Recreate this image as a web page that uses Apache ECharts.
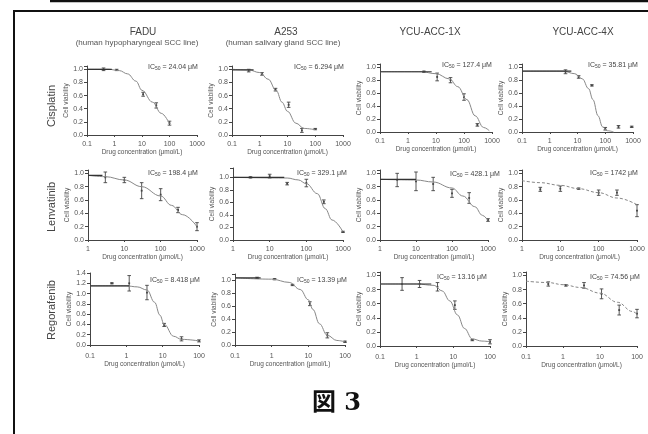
<!DOCTYPE html>
<html><head><meta charset="utf-8">
<script src="https://cdn.jsdelivr.net/npm/echarts@6/dist/echarts.min.js"></script>
<style>html,body{margin:0;padding:0;background:#fff}#c{width:648px;height:434px}</style>
</head><body><div id="c"></div>
<script>
// ---------- labels ----------
const cellLines = ['FADU', 'A253', 'YCU-ACC-1X', 'YCU-ACC-4X'];
const cellLineNotes = ['(human hypopharyngeal SCC line)', '(human salivary gland SCC line)', '', ''];
const drugs = ['Cisplatin', 'Lenvatinib', 'Regorafenib'];
const ic50Values = ['24.04', '6.294', '127.4', '35.81', '198.4', '329.1', '428.1', '1742', '8.418', '13.39', '13.16', '74.56'];
const xAxisTitle = 'Drug concentration (\u03bcmol/L)';
const yAxisTitle = 'Cell viability';
const figureLabel = '\u56f3 3';

// ---------- data: points [concentration, mean viability, error] ----------
const ptsFaduCis = [[0.4,1.0,0.02],[1.2,0.99,0.01],[11,0.62,0.03],[33,0.45,0.04],[100,0.18,0.03]];
const ptsA253Cis = [[0.4,0.98,0.02],[1.2,0.93,0.02],[3.7,0.69,0.02],[11,0.46,0.04],[33,0.07,0.03],[100,0.09,0.01]];
const pts1XCis   = [[3.7,0.93,0.01],[11,0.85,0.06],[33,0.80,0.04],[100,0.54,0.05],[300,0.11,0.02]];
const pts4XCis   = [[3.7,0.93,0.03],[11,0.85,0.02],[33,0.72,0.01],[100,0.05,0.02],[300,0.08,0.02],[900,0.08,0.01]];
const ptsFaduLen = [[3,0.94,0.08],[10,0.90,0.04],[30,0.74,0.12],[100,0.68,0.09],[300,0.45,0.04],[1000,0.20,0.06]];
const ptsA253Len = [[3,1.0,0.01],[10,1.02,0.03],[30,0.90,0.02],[100,0.91,0.06],[300,0.61,0.03],[1000,0.13,0.01]];
const pts1XLen   = [[3,0.90,0.10],[10,0.88,0.14],[30,0.84,0.10],[100,0.70,0.06],[300,0.63,0.08],[1000,0.30,0.02]];
const pts4XLen   = [[3,0.76,0.03],[10,0.77,0.04],[30,0.77,0.01],[100,0.71,0.04],[300,0.71,0.04],[1000,0.44,0.09]];
const ptsFaduReg = [[0.4,1.20,0.01],[1.2,1.20,0.15],[3.7,1.02,0.14],[11,0.39,0.03],[33,0.12,0.04],[100,0.08,0.02]];
const ptsA253Reg = [[0.4,1.04,0.01],[1.2,1.02,0.01],[3.7,0.93,0.01],[11,0.64,0.03],[33,0.15,0.04],[100,0.05,0.01]];
const pts1XReg   = [[0.4,0.88,0.09],[1.2,0.88,0.05],[3.7,0.84,0.06],[11,0.58,0.06],[33,0.085,0.01],[100,0.06,0.03]];
const pts4XReg   = [[0.4,0.88,0.03],[1.2,0.86,0.01],[3.7,0.86,0.04],[11,0.74,0.07],[33,0.51,0.07],[100,0.46,0.06]];

// ---------- fitted curves [concentration, viability] ----------
const fitFaduCis = [[0.1,1.0],[0.6,1.0],[1.5,0.98],[3,0.93],[6,0.82],[10,0.68],[24,0.5],[50,0.33],[100,0.17]];
const fitA253Cis = [[0.1,1.0],[0.4,0.99],[1,0.95],[2,0.85],[4,0.67],[6.3,0.5],[10,0.36],[20,0.18],[40,0.1],[100,0.08]];
const fit1XCis   = [[0.1,0.93],[3,0.93],[10,0.9],[30,0.82],[60,0.7],[127,0.5],[250,0.25],[500,0.07],[800,0.02]];
const fit4XCis   = [[0.1,0.94],[3,0.94],[8,0.9],[15,0.82],[25,0.67],[36,0.5],[55,0.25],[80,0.08],[120,0.02],[200,0.0]];
const fitFaduLen = [[1,0.97],[3,0.95],[10,0.9],[30,0.8],[100,0.66],[198,0.52],[400,0.38],[1000,0.2]];
const fitA253Len = [[1,1.0],[30,0.99],[60,0.96],[100,0.9],[200,0.74],[329,0.5],[500,0.32],[1000,0.13]];
const fit1XLen   = [[1,0.91],[10,0.9],[30,0.87],[100,0.78],[200,0.66],[428,0.5],[700,0.37],[1000,0.29]];
const fit4XLen   = [[1,0.89],[3,0.86],[10,0.82],[30,0.77],[100,0.71],[300,0.63],[1000,0.53]];
const fitFaduReg = [[0.1,1.15],[1,1.15],[2,1.13],[3.7,1.07],[6,0.83],[8.4,0.58],[11,0.4],[20,0.17],[33,0.11],[100,0.08]];
const fitA253Reg = [[0.1,1.04],[1,1.02],[3,0.97],[6,0.86],[10,0.7],[13.4,0.55],[20,0.33],[33,0.15],[60,0.07],[100,0.05]];
const fit1XReg   = [[0.1,0.88],[1,0.88],[3,0.86],[5,0.78],[8,0.64],[13,0.44],[20,0.25],[33,0.1],[60,0.07],[100,0.06]];
const fit4XReg   = [[0.1,0.92],[0.4,0.9],[1,0.87],[3,0.83],[10,0.75],[30,0.62],[75,0.49],[100,0.45]];

// ---------- dark plateau segments ----------
const platFaduCis = [[0.1,1.0],[0.8,1.0]];
const platA253Cis = [[0.1,0.99],[0.6,0.99]];
const plat1XCis   = [[0.1,0.93],[7,0.93]];
const plat4XCis   = [[0.1,0.94],[6,0.94]];
const platFaduLen = [[1,0.97],[2.5,0.97]];
const platA253Len = [[1,1.0],[25,1.0]];
const plat1XLen   = [[1,0.91],[10,0.91]];
const plat4XLen   = [];
const platFaduReg = [[0.1,1.15],[1.2,1.15]];
const platA253Reg = [[0.1,1.04],[0.5,1.04]];
const plat1XReg   = [[0.1,0.88],[2.5,0.88]];
const plat4XReg   = [];

const points = [ptsFaduCis, ptsA253Cis, pts1XCis, pts4XCis, ptsFaduLen, ptsA253Len, pts1XLen, pts4XLen, ptsFaduReg, ptsA253Reg, pts1XReg, pts4XReg];
const fits = [fitFaduCis, fitA253Cis, fit1XCis, fit4XCis, fitFaduLen, fitA253Len, fit1XLen, fit4XLen, fitFaduReg, fitA253Reg, fit1XReg, fit4XReg];
const plateaus = [platFaduCis, platA253Cis, plat1XCis, plat4XCis, platFaduLen, platA253Len, plat1XLen, plat4XLen, platFaduReg, platA253Reg, plat1XReg, plat4XReg];

// ---------- layout (pixels) [left, top, width, height, xmin, xmax, ymax, dashedFit] ----------
const layout = [
  [87,66,110,69, 0.1,1000,1.05,0],
  [232,66,111,69, 0.1,1000,1.05,0],
  [380,64,112,68, 0.1,1000,1.05,0],
  [522,64,111,68, 0.1,1000,1.05,0],
  [88,170,109,70, 1,1000,1.05,0],
  [233,168,110,72, 1,1000,1.15,0],
  [380,170,108,70, 1,1000,1.05,0],
  [522,170,115,70, 1,1000,1.05,1],
  [90,273,109,72, 0.1,100,1.4,0],
  [235,274,110,71, 0.1,100,1.1,0],
  [380,272,110,74, 0.1,100,1.05,0],
  [526,272,111,74, 0.1,100,1.05,1]
];
const ic50Pos = [[148,67],[294,67],[442,65],[588,65],[148,173],[297,173],[450,174],[590,173],[150,280],[297,280],[437,277],[590,277]];

const FONT = '"Liberation Sans", Arial, sans-serif';
const TXT = '#555';
const AX = '#444';

const grids = [], xAxes = [], yAxes = [], series = [];
layout.forEach((L, i) => {
  const row = Math.floor(i / 4);
  grids.push({left: L[0], top: L[1], width: L[2], height: L[3], containLabel: false});
  xAxes.push({
    type: 'log', logBase: 10, gridIndex: i, min: L[4], max: L[5],
    axisLine: {show: true, onZero: false, lineStyle: {color: AX, width: 1}},
    axisTick: {show: true, length: 2, lineStyle: {color: AX}},
    splitLine: {show: false},
    axisLabel: {fontSize: 7, color: TXT, fontFamily: FONT, margin: row === 2 ? 8 : 6,
      formatter: v => String(+Number(v).toPrecision(6))},
    name: xAxisTitle, nameLocation: 'middle', nameGap: row === 2 ? 15 : 14,
    nameTextStyle: {fontSize: 6.5, color: TXT, fontFamily: FONT}
  });
  yAxes.push({
    type: 'value', gridIndex: i, min: 0, max: L[6], interval: 0.2,
    axisLine: {show: true, onZero: false, lineStyle: {color: AX, width: 1}},
    axisTick: {show: true, length: 3, lineStyle: {color: AX}},
    splitLine: {show: false},
    axisLabel: {fontSize: 7, color: TXT, fontFamily: FONT, margin: 4,
      formatter: v => Math.abs(v * 5 - Math.round(v * 5)) < 1e-6 ? Number(v).toFixed(1) : ''},
    name: yAxisTitle, nameLocation: 'middle', nameGap: 16,
    nameTextStyle: {fontSize: 6.5, color: TXT, fontFamily: FONT}
  });
  series.push({
    type: 'line', xAxisIndex: i, yAxisIndex: i, data: fits[i], symbol: 'none',
    smooth: 0.4, smoothMonotone: 'x', clip: false, silent: true,
    lineStyle: {color: '#888', width: 1, type: L[7] ? [3, 2] : 'solid'}
  });
  series.push({
    type: 'line', xAxisIndex: i, yAxisIndex: i, data: plateaus[i], symbol: 'none',
    clip: false, silent: true, lineStyle: {color: '#333', width: 1.2}
  });
  series.push({
    type: 'custom', xAxisIndex: i, yAxisIndex: i, data: points[i],
    encode: {x: 0, y: 1}, silent: true,
    renderItem: function (params, api) {
      const x = api.value(0), y = api.value(1), e = api.value(2);
      const t = api.coord([x, y + e]), b = api.coord([x, y - e]), m = api.coord([x, y]);
      const c = 1.8;
      const st = {stroke: '#444', lineWidth: 0.9};
      return {type: 'group', children: [
        {type: 'line', shape: {x1: m[0], y1: t[1], x2: m[0], y2: b[1]}, style: st},
        {type: 'line', shape: {x1: m[0] - c, y1: t[1], x2: m[0] + c, y2: t[1]}, style: st},
        {type: 'line', shape: {x1: m[0] - c, y1: b[1], x2: m[0] + c, y2: b[1]}, style: st},
        {type: 'rect', shape: {x: m[0] - 0.9, y: m[1] - 0.9, width: 1.8, height: 1.8}, style: {fill: '#444'}}
      ]};
    }
  });
});

const graphics = [
  {type: 'line', shape: {x1: 50, y1: 1, x2: 660, y2: 1}, style: {stroke: '#111', lineWidth: 2.5}},
  {type: 'rect', shape: {x: 14, y: 11, width: 700, height: 500}, style: {fill: 'none', stroke: '#111', lineWidth: 2}}
];
const colX = [143, 286, 430, 583];
const noteX = [137, 283, 430, 583];
cellLines.forEach((name, j) => {
  graphics.push({type: 'text', x: colX[j], y: 32, style: {text: name, fontSize: 10, fill: '#444', fontFamily: FONT, align: 'center', verticalAlign: 'middle'}});
  if (cellLineNotes[j]) graphics.push({type: 'text', x: noteX[j], y: 43, style: {text: cellLineNotes[j], fontSize: 8, fill: '#555', fontFamily: FONT, align: 'center', verticalAlign: 'middle'}});
});
const rowY = [106, 207, 310];
drugs.forEach((d, r) => {
  graphics.push({type: 'text', x: 52, y: rowY[r], rotation: Math.PI / 2, style: {text: d, fontSize: 11, fill: '#444', fontFamily: FONT, align: 'center', verticalAlign: 'middle'}});
});
ic50Values.forEach((v, i) => {
  graphics.push({type: 'text', x: ic50Pos[i][0], y: ic50Pos[i][1], style: {
    text: '{a|IC}{b|50}{a| = ' + v + ' \u03bcM}', fontFamily: FONT, verticalAlign: 'middle',
    rich: {a: {fontSize: 7, fill: '#444', fontFamily: FONT}, b: {fontSize: 5, fill: '#444', fontFamily: FONT, verticalAlign: 'bottom', padding: [4, 0, 0, 0]}}
  }});
});
graphics.push({type: 'text', x: 312, y: 404, style: {text: figureLabel, fontSize: 24, fontWeight: 'bold', fill: '#111', fontFamily: '"DejaVu Serif", "Noto Sans CJK JP", serif', align: 'left', verticalAlign: 'middle'}});

const chart = echarts.init(document.getElementById('c'), null, {renderer: 'canvas'});
chart.setOption({
  backgroundColor: '#fff', animation: false,
  grid: grids, xAxis: xAxes, yAxis: yAxes, series: series, graphic: graphics
});
</script></body></html>
